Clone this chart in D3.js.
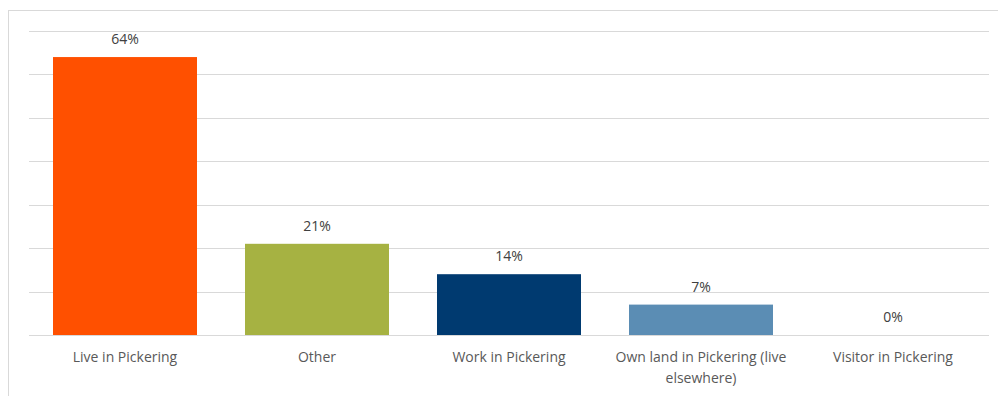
<!DOCTYPE html>
<html>
<head>
<meta charset="utf-8">
<script src="https://cdn.jsdelivr.net/npm/d3@7"></script>
<style>
  html, body { margin: 0; padding: 0; background: #fff; }
  svg { display: block; font-family: "Open Sans", "Liberation Sans", sans-serif; }
</style>
</head>
<body>
<svg id="chart" width="998" height="396"></svg>
<script>
// Respondent connection to Pickering (% of responses)
const categories = [
  ["Live in Pickering"],
  ["Other"],
  ["Work in Pickering"],
  ["Own land in Pickering (live", "elsewhere)"],
  ["Visitor in Pickering"]
];
const values = [64, 21, 14, 7, 0];
const barColors = ["#FF5000", "#A6B242", "#003A70", "#5B8DB4", "#7F7F7F"];
const yTicks = [0, 10, 20, 30, 40, 50, 60, 70];

const svg = d3.select("#chart");
const W = 998, H = 396;
const plot = { left: 29, right: 989, top: 31, bottom: 335 };

// chart frame
svg.append("rect")
  .attr("x", 8.5).attr("y", 10.5)
  .attr("width", W + 20).attr("height", H + 20)
  .attr("fill", "none").attr("stroke", "#D9D9D9").attr("stroke-width", 1);

const x = d3.scaleBand()
  .domain(d3.range(categories.length))
  .range([plot.left, plot.right])
  .paddingInner(0.25).paddingOuter(0.125);

const y = d3.scaleLinear().domain([0, 70]).range([plot.bottom, plot.top]);

// horizontal gridlines
svg.append("g").selectAll("line")
  .data(yTicks)
  .join("line")
  .attr("x1", plot.left).attr("x2", plot.right)
  .attr("y1", d => Math.round(y(d)) + 0.5).attr("y2", d => Math.round(y(d)) + 0.5)
  .attr("stroke", "#D9D9D9").attr("stroke-width", 1);

// bars
svg.append("g").selectAll("rect")
  .data(values)
  .join("rect")
  .attr("x", (d, i) => x(i))
  .attr("width", x.bandwidth())
  .attr("y", d => y(d))
  .attr("height", d => y(0) - y(d))
  .attr("fill", (d, i) => barColors[i]);

// value labels
svg.append("g").selectAll("text")
  .data(values)
  .join("text")
  .attr("x", (d, i) => x(i) + x.bandwidth() / 2)
  .attr("y", d => y(d) - 13)
  .attr("text-anchor", "middle")
  .attr("font-size", 14)
  .attr("fill", "#404040")
  .text(d => d + "%");

// category labels
const catG = svg.append("g").selectAll("text")
  .data(categories)
  .join("text")
  .attr("x", (d, i) => x(i) + x.bandwidth() / 2)
  .attr("y", plot.bottom + 27)
  .attr("text-anchor", "middle")
  .attr("font-size", 14)
  .attr("fill", "#595959");
catG.selectAll("tspan")
  .data(d => d)
  .join("tspan")
  .attr("x", function () { return d3.select(this.parentNode).attr("x"); })
  .attr("dy", (d, i) => i === 0 ? 0 : 21)
  .text(d => d);
</script>
</body>
</html>
